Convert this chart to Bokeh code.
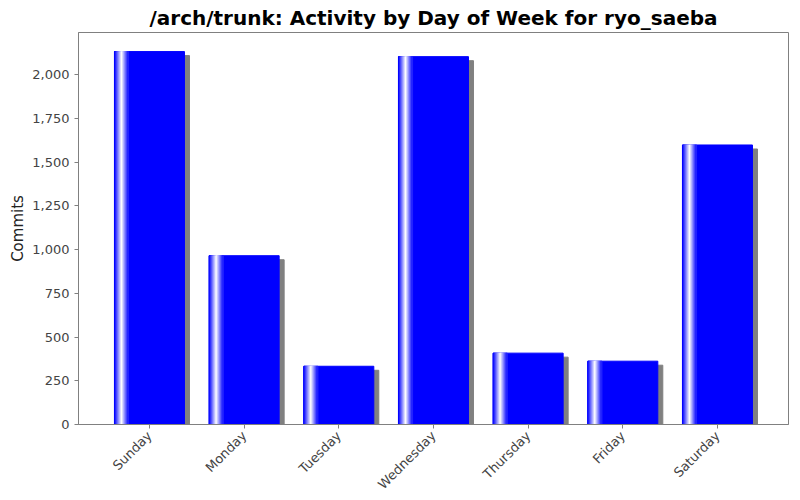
from math import pi

from bokeh.plotting import figure
from bokeh.models import ColumnDataSource, FactorRange, Range1d, NumeralTickFormatter
from bokeh.transform import dodge
from bokeh.embed import file_html
from bokeh.resources import INLINE

# datos
days = ["Sunday", "Monday", "Tuesday", "Wednesday", "Thursday", "Friday", "Saturday"]
commits = [2132, 965, 333, 2103, 408, 362, 1598]
y_ticks = [0, 250, 500, 750, 1000, 1250, 1500, 1750, 2000]

source = ColumnDataSource(dict(
    day=days,
    commits=commits,
    shadow=[c - 23 for c in commits],   # sombra 4px mas baja
))

p = figure(
    width=792, height=500,
    x_range=FactorRange(factors=days, range_padding=0.5 / 7),
    y_range=Range1d(0, 2241),
    title="/arch/trunk: Activity by Day of Week for ryo_saeba",
    output_backend="svg", toolbar_location=None, tools="",
    min_border_left=78, min_border_right=4, min_border_top=0, min_border_bottom=20,
)

p.title.align = "center"
p.title.text_font = "DejaVu Sans"
p.title.text_font_size = "20px"
p.title.text_font_style = "bold"
p.title.text_color = "black"
p.title.standoff = 6

p.background_fill_color = "white"
p.border_fill_color = "white"
p.outline_line_color = "#808080"
p.xgrid.visible = False
p.ygrid.visible = False

bar_w = 0.739
px = 1 / 94.7

# sombra
p.vbar(x=dodge("day", 5 * px, range=p.x_range), top="shadow", width=bar_w,
       color="#808080", source=source)
# barra principal
p.vbar(x="day", top="commits", width=bar_w, color="#0000FF", source=source)

# franja degradada a la izquierda (estilo GradientBarPainter)
n = 14
for i in range(n):
    t = i / 7 if i < 7 else (n - i) / 7
    c = int(round(255 * t))
    col = "#%02x%02xff" % (c, c)
    off = -bar_w / 2 + (i + 0.5) * px
    p.vbar(x=dodge("day", off, range=p.x_range), top="commits", width=px * 1.15,
           color=col, source=source)

for ax in (p.xaxis, p.yaxis):
    ax.axis_line_color = "#808080"
    ax.major_tick_line_color = "#808080"
    ax.minor_tick_line_color = None
    ax.major_tick_out = 4
    ax.major_tick_in = 0
    ax.major_label_text_font = "DejaVu Sans"
    ax.major_label_text_font_size = "13px"
    ax.major_label_text_color = "#444444"
    ax.major_label_standoff = 5

p.yaxis.ticker = y_ticks
p.yaxis.formatter = NumeralTickFormatter(format="0,0")
p.yaxis.axis_label = "Commits"
p.yaxis.axis_label_text_font = "DejaVu Sans"
p.yaxis.axis_label_text_font_size = "15px"
p.yaxis.axis_label_text_font_style = "normal"
p.yaxis.axis_label_text_color = "#222222"
p.yaxis.axis_label_standoff = 2

p.xaxis.major_label_orientation = pi / 4
p.xaxis.major_label_standoff = 5

open("out.html", "w").write(file_html(p, INLINE))
